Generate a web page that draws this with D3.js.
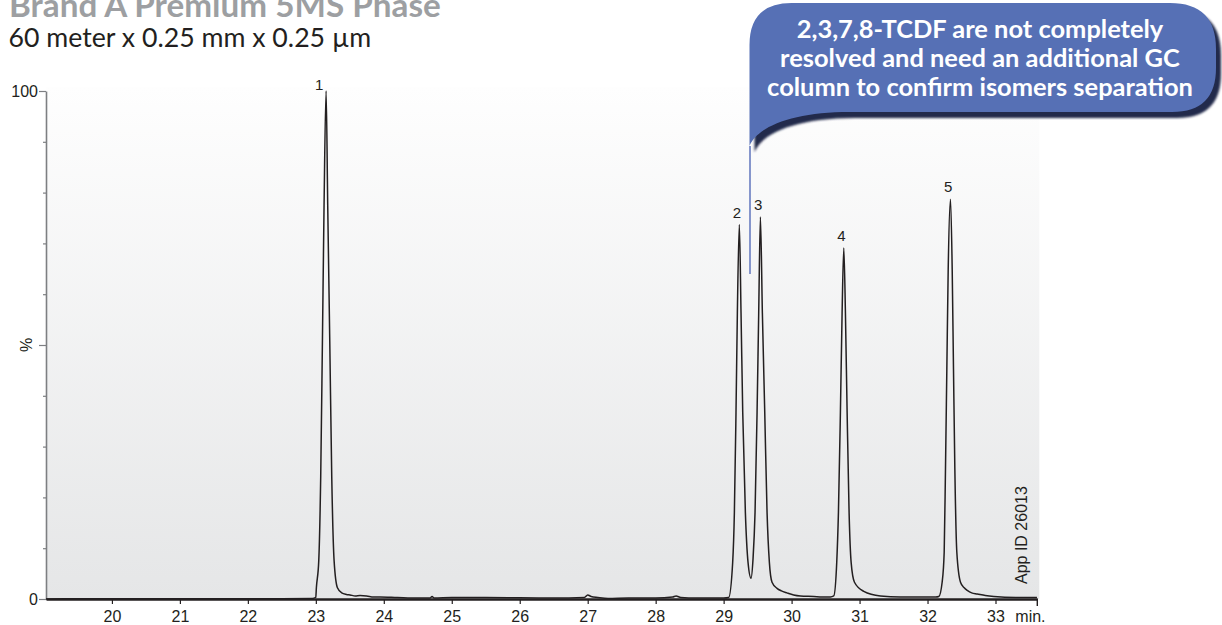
<!DOCTYPE html>
<html><head><meta charset="utf-8">
<script src="https://cdn.jsdelivr.net/npm/d3@7"></script>
<style>html,body{margin:0;padding:0;background:#fff;overflow:hidden}</style>
</head><body><svg id="chart" width="1222" height="625"></svg>
<script>
// ---------- data ----------
const titleText = "Brand A Premium 5MS Phase";
const subtitleText = "60 meter x 0.25 mm x 0.25 µm";
const calloutLines = ["2,3,7,8-TCDF are not completely",
                      "resolved and need an additional GC",
                      "column to confirm isomers separation"];
const appIdText = "App ID 26013";
const xUnitLabel = "min.";
const yUnitLabel = "%";
const xTickValues = [20,21,22,23,24,25,26,27,28,29,30,31,32,33];
const yTickValues = [0,10,20,30,40,50,60,70,80,90,100];
const yTickLabels = ["0","","","","","","","","","","100"];
const xDomain = [19.03, 33.615];
const yDomain = [0, 100];

// retention time (min) and relative intensity (%)
const retentionTime = [
  19.03,19.5,20.5,21.5,22.5,22.95,
  22.999,23.008,23.043,23.072,23.097,23.121,23.151,23.175,23.205,23.234,23.269,23.318,23.381,
  23.45,23.504,23.58,23.65,23.749,23.85,23.946,24.2,24.5,24.68,24.71,24.74,25.0,25.5,26.0,26.5,
  26.95,27.0,27.05,27.15,27.3,27.6,28.0,28.25,28.3,28.37,28.6,29.0,
  29.074,29.133,29.158,29.182,29.202,29.231,29.256,29.281,29.320,29.359,29.403,
  29.433,29.462,29.492,29.516,29.541,29.570,29.605,29.639,29.673,29.712,29.786,29.85,29.933,
  30.03,30.13,30.326,30.45,30.571,
  30.620,30.664,30.689,30.718,30.743,30.768,30.792,30.817,30.846,30.876,30.925,31.062,31.307,
  31.6,32.0,32.12,
  32.166,32.215,32.245,32.264,32.284,32.304,32.338,32.363,32.382,32.402,32.431,32.485,32.54,
  32.584,32.65,32.731,32.85,32.976,33.3,33.61
];
const intensity = [
  0.0,0.05,0.05,0.05,0.05,0.1,
  0.3,2.2,7.5,24.2,50.8,77.4,100,77.4,50.8,24.2,7.5,2.2,1.2,
  0.9,0.8,0.6,0.7,0.6,0.4,0.4,0.3,0.2,0.2,0.5,0.2,0.3,0.3,0.25,0.2,
  0.3,0.8,0.5,0.3,0.1,0.2,0.2,0.4,0.6,0.3,0.2,0.2,
  0.3,7.2,17,36.7,56.3,73.7,56.3,36.7,17,7.2,4.1,
  8,17,36.7,56.3,75.2,56.3,36.7,17,7.2,3.3,2.1,1.6,1.2,
  0.8,0.6,0.5,0.4,0.4,
  0.6,7.2,17,36.7,56.3,69.1,56.3,36.7,17,7.2,3.3,1.5,0.6,
  0.4,0.4,0.4,
  0.5,3.3,9.2,25.5,45.2,64.8,78.7,64.8,45.2,25.5,9.2,3.3,2.2,
  1.7,1.2,1.0,0.7,0.5,0.3,0.3
];
const peakLabels = ["1","2","3","4","5"];
const peakTimes = [23.151, 29.231, 29.541, 30.768, 32.338];
const peakHeights = [100, 73.7, 75.2, 69.1, 78.7];

// ---------- drawing ----------
const svg = d3.select("#chart");
const INK = "#231f20";
const AXIS_FONT = "'Liberation Sans', Arial, Helvetica, sans-serif";
const CALLOUT_FONT = "Lato, 'Open Sans', sans-serif";

const x = d3.scaleLinear().domain(xDomain).range([46, 1037.3]);
const y = d3.scaleLinear().domain(yDomain).range([599, 91]);

const defs = svg.append("defs");
const grad = defs.append("linearGradient").attr("id","bg").attr("x1",0).attr("y1",0).attr("x2",0).attr("y2",1);
grad.append("stop").attr("offset","0%").attr("stop-color","#fefefe");
grad.append("stop").attr("offset","100%").attr("stop-color","#e5e6e7");
const blur = defs.append("filter").attr("id","sh").attr("x","-5%").attr("y","-5%").attr("width","115%").attr("height","130%");
blur.append("feGaussianBlur").attr("stdDeviation",1.2);

// plot background
svg.append("rect")
  .attr("x", x.range()[0]).attr("y", y(100) - 4)
  .attr("width", x.range()[1] - x.range()[0] + 2)
  .attr("height", y(0) - y(100) + 4)
  .attr("fill","url(#bg)");

// title & subtitle (fit to measured widths)
function fitText(sel, targetWidth, baseSize){
  sel.attr("font-size", baseSize);
  const w = sel.node().getComputedTextLength();
  sel.attr("font-size", baseSize * targetWidth / w);
}
const title = svg.append("text").attr("x",9).attr("y",17)
  .attr("font-family",CALLOUT_FONT).attr("font-weight",700).attr("fill","#9d9fa2")
  .text(titleText);
fitText(title, 432, 24);
const subtitle = svg.append("text").attr("x",8.5).attr("y",47)
  .attr("font-family",CALLOUT_FONT).attr("font-weight",400).attr("fill",INK)
  .text(subtitleText);
fitText(subtitle, 363, 21);

// y axis
const yAxis = d3.axisLeft(y).tickValues(yTickValues).tickSize(3).tickSizeOuter(0)
  .tickPadding(3).tickFormat((d,i)=>yTickLabels[i]);
const gy = svg.append("g").attr("transform",`translate(${x.range()[0]},0)`).call(yAxis);
gy.select(".domain").attr("stroke","#7d7f82").attr("stroke-width",1.6);
gy.selectAll(".tick line").attr("stroke","#7d7f82").attr("stroke-width",1.2)
  .attr("x2", d => (d===0||d===50||d===100) ? -7 : -3);
gy.selectAll(".tick text").attr("x",-8).attr("font-family",AXIS_FONT).attr("font-size",16).attr("fill",INK);
svg.append("text")
  .attr("transform",`translate(${x.range()[0]-14},${y(50)}) rotate(-90)`)
  .attr("text-anchor","middle").attr("font-family",AXIS_FONT).attr("font-size",16).attr("fill",INK)
  .text(yUnitLabel);

// chromatogram trace
const trace = d3.line()
  .x((d,i)=>x(retentionTime[i]))
  .y((d,i)=>y(intensity[i]))
  .curve(d3.curveMonotoneX);
svg.append("path").attr("d", trace(intensity))
  .attr("fill","none").attr("stroke",INK).attr("stroke-width",1.5).attr("stroke-linejoin","round");

// x axis
const xAxis = d3.axisBottom(x).tickValues(xTickValues).tickSize(5).tickSizeOuter(0).tickPadding(7);
const gx = svg.append("g").attr("transform",`translate(0,${y(0)})`).call(xAxis);
gx.select(".domain").attr("stroke",INK).attr("stroke-width",2.6);
gx.selectAll(".tick line").attr("stroke",INK).attr("stroke-width",1.2);
gx.selectAll(".tick text").attr("font-family",AXIS_FONT).attr("font-size",16).attr("fill",INK);
gx.append("line").attr("x1",x.range()[1]).attr("x2",x.range()[1]).attr("y1",0).attr("y2",7)
  .attr("stroke",INK).attr("stroke-width",1.4);
gx.append("text").attr("x", x.range()[1] - 22).attr("y", 12).attr("dy","0.71em")
  .attr("text-anchor","start")
  .attr("font-family",AXIS_FONT).attr("font-size",16).attr("fill",INK).text(xUnitLabel);

// peak labels
svg.append("g").selectAll("text").data(peakLabels).join("text")
  .attr("x",(d,i)=> x(peakTimes[i]) + (peakHeights[i] >= 99 ? -7 : -2.3))
  .attr("y",(d,i)=> y(peakHeights[i]) + (peakHeights[i] >= 99 ? -1 : -7))
  .attr("text-anchor","middle").attr("font-family",AXIS_FONT).attr("font-size",15).attr("fill",INK)
  .text(d=>d);

// App ID
svg.append("text")
  .attr("transform",`translate(1027,${y(0)-15}) rotate(-90)`)
  .attr("text-anchor","start").attr("font-family",AXIS_FONT).attr("font-size",16).attr("fill",INK)
  .text(appIdText);

// callout bubble
const L = 749.5, T = 3, R = 1216, B = 112, P = 146;
const bubble = `M${L},${P} V${T+42} Q${L},${T} ${L+42},${T} H${R-46} Q${R},${T} ${R},${T+46} V${B-44} Q${R},${B} ${R-44},${B} H${L+100} C${L+45},${B} ${L+8},${B+14} ${L},${P} Z`;
svg.append("path").attr("d",bubble).attr("transform","translate(5,6)")
  .attr("fill","#222a4c").attr("filter","url(#sh)");
svg.append("path").attr("d",bubble).attr("fill","#5670b5");
svg.append("line").attr("x1",L+0.5).attr("x2",L+0.5).attr("y1",P).attr("y2",274)
  .attr("stroke","#5f75bd").attr("stroke-width",1.5);
const ct = svg.append("g").attr("font-family",CALLOUT_FONT).attr("font-weight",700).attr("fill","#ffffff")
  .attr("text-anchor","middle");
const ctexts = ct.selectAll("text").data(calloutLines).join("text")
  .attr("x",980).attr("y",(d,i)=>37.5 + i*29).text(d=>d).attr("font-size",22);
const w3 = ctexts.nodes()[2].getComputedTextLength();
ctexts.attr("font-size", 22 * 426 / w3);
</script></body></html>
